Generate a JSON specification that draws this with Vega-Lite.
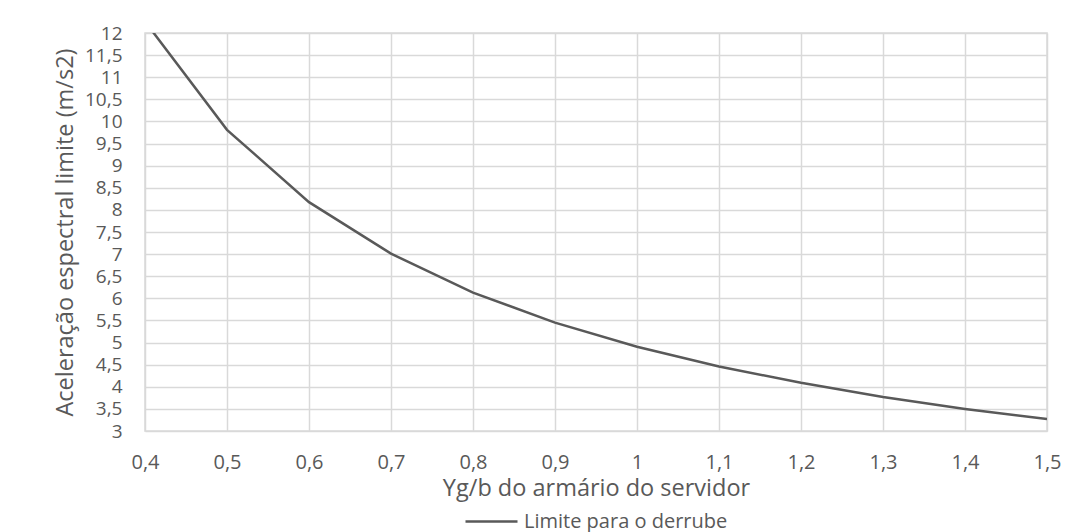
{
  "$schema": "https://vega.github.io/schema/vega-lite/v6.json",
  "autosize": "none",
  "width": 902,
  "height": 398,
  "padding": {"left": 145, "top": 33, "right": 36, "bottom": 101},
  "background": "white",
  "config": {
    "font": "Open Sans",
    "view": {"stroke": "#d9d9d9", "strokeWidth": 1.5},
    "legend": {"layout": {"bottom": {"anchor": "middle"}}},
    "axis": {
      "grid": true,
      "gridColor": "#d9d9d9",
      "gridWidth": 1.5,
      "domain": false,
      "ticks": false,
      "labelColor": "#595959",
      "titleColor": "#595959",
      "labelFont": "Open Sans",
      "titleFont": "Open Sans",
      "labelFontSize": 20,
      "titleFontSize": 23.5,
      "titleFontWeight": "normal"
    }
  },
  "data": {
    "values": [
      {"x": 0.4, "y": 12.26, "s": "Limite para o derrube"},
      {"x": 0.5, "y": 9.81, "s": "Limite para o derrube"},
      {"x": 0.6, "y": 8.175, "s": "Limite para o derrube"},
      {"x": 0.7, "y": 7.01, "s": "Limite para o derrube"},
      {"x": 0.8, "y": 6.13, "s": "Limite para o derrube"},
      {"x": 0.9, "y": 5.45, "s": "Limite para o derrube"},
      {"x": 1.0, "y": 4.905, "s": "Limite para o derrube"},
      {"x": 1.1, "y": 4.46, "s": "Limite para o derrube"},
      {"x": 1.2, "y": 4.09, "s": "Limite para o derrube"},
      {"x": 1.3, "y": 3.77, "s": "Limite para o derrube"},
      {"x": 1.4, "y": 3.5, "s": "Limite para o derrube"},
      {"x": 1.5, "y": 3.27, "s": "Limite para o derrube"}
    ]
  },
  "mark": {"type": "line", "clip": true, "strokeWidth": 2.5},
  "encoding": {
    "x": {
      "field": "x", "type": "quantitative",
      "scale": {"domain": [0.4, 1.5], "nice": false, "zero": false},
      "axis": {
        "title": "Yg/b do armário do servidor",
        "values": [0.4, 0.5, 0.6, 0.7, 0.8, 0.9, 1, 1.1, 1.2, 1.3, 1.4, 1.5],
        "labelExpr": "replace(format(datum.value, '~g'), '.', ',')",
        "labelFlush": false,
        "labelPadding": 21,
        "titlePadding": 4
      }
    },
    "y": {
      "field": "y", "type": "quantitative",
      "scale": {"domain": [3, 12], "nice": false, "zero": false},
      "axis": {
        "title": "Aceleração espectral limite (m/s2)",
        "values": [3, 3.5, 4, 4.5, 5, 5.5, 6, 6.5, 7, 7.5, 8, 8.5, 9, 9.5, 10, 10.5, 11, 11.5, 12],
        "labelExpr": "replace(format(datum.value, '~g'), '.', ',')",
        "labelFlush": false,
        "labelFontSize": 19,
        "labelPadding": 23,
        "titlePadding": 7,
        "labelOverlap": false
      }
    },
    "color": {
      "field": "s", "type": "nominal",
      "scale": {"range": ["#595959"]},
      "legend": {
        "title": null,
        "orient": "bottom",
        "symbolType": "stroke",
        "symbolSize": 2704,
        "symbolStrokeWidth": 2.5,
        "labelFont": "Open Sans",
        "labelFontSize": 20,
        "labelLimit": 400,
        "labelColor": "#595959",
        "labelOffset": 5,
        "offset": -6
      }
    }
  }
}
